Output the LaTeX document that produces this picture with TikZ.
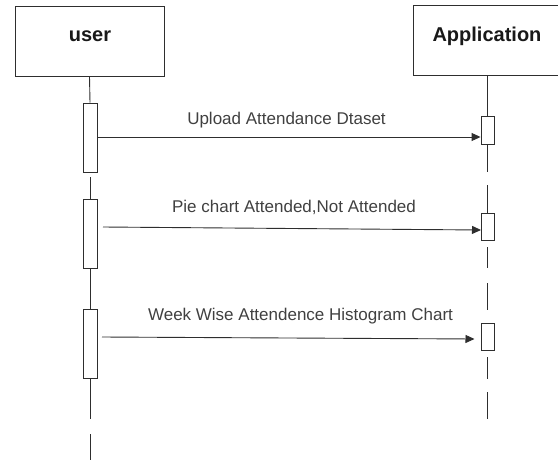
\documentclass[tikz,border=0pt]{standalone}
\usepackage{fontspec}
\setmainfont{Liberation Sans}
\usetikzlibrary{arrows.meta}
\begin{document}
\begin{tikzpicture}[x=1pt,y=-1pt,
  line/.style={draw=black!82,line width=0.9pt},
  actorbox/.style={line,fill=white,minimum width=149pt,minimum height=70pt,inner sep=0pt},
  title/.style={anchor=base,inner sep=0pt,text=black!90,font=\bfseries\fontsize{20}{24}\selectfont},
  ubar/.style={line,fill=white,minimum width=14pt,minimum height=69pt,inner sep=0pt},
  abar/.style={line,fill=white,minimum width=13pt,minimum height=27.5pt,inner sep=0pt},
  msg/.style={line,-{Triangle[length=9pt,width=8pt]}},
  msglabel/.style={anchor=base,inner sep=0pt,text=black!75,font=\fontsize{17}{20}\selectfont}]
\useasboundingbox (0,0) rectangle (558,461);
% actors
\node[actorbox] (user) at (89.5,41) {};
\node[actorbox] (app) at (487.5,40.5) {};
\node[title] (usert) at (90,41) {user};
\node[title] (appt) at (487,41) {Application};
% activation bars
\node[ubar] (u1) at (90,137.5) {};
\node[ubar] (u2) at (90,233.5) {};
\node[ubar] (u3) at (90,343.5) {};
\node[abar] (a1) at (487.5,130.5) {};
\node[abar] (a2) at (487.5,227) {};
\node[abar] (a3) at (487.5,337) {};
% user lifeline
\coordinate (ul1) at (90,177);
\coordinate (ul2) at (90,419);
\coordinate (ul3) at (90,434);
\coordinate (ul4) at (90,460);
\draw[line] (user.south) -- (u1.north);
\draw[line] (ul1) -- (u2.north);
\draw[line] (u2.south) -- (u3.north);
\draw[line] (u3.south) -- (ul2);
\draw[line] (ul3) -- (ul4);
% application lifeline
\coordinate (al1) at (487.5,172);
\coordinate (al2) at (487.5,185);
\coordinate (al3) at (487.5,247);
\coordinate (al4) at (487.5,268);
\coordinate (al5) at (487.5,283);
\coordinate (al6) at (487.5,310);
\coordinate (al7) at (487.5,357);
\coordinate (al8) at (487.5,379);
\coordinate (al9) at (487.5,392);
\coordinate (al10) at (487.5,419);
\draw[line] (app.south) -- (a1.north);
\draw[line] (a1.south) -- (al1);
\draw[line] (al2) -- (a2.north);
\draw[line] (al3) -- (al4);
\draw[line] (al5) -- (al6);
\draw[line] (al7) -- (al8);
\draw[line] (al9) -- (al10);
% messages
\coordinate (m2s) at (103,227);
\coordinate (m2e) at (481,230);
\coordinate (m3s) at (102,337);
\coordinate (m3e) at (474.5,339);
\draw[msg] (u1.east |- 0,137) -- (a1.west |- 0,137);
\draw[msg] (m2s) -- (m2e);
\draw[msg] (m3s) -- (m3e);
\node[msglabel] (l1) at (286.5,124) {Upload Attendance Dtaset};
\node[msglabel] (l2) at (294,212.5) {Pie chart Attended,Not Attended};
\node[msglabel] (l3) at (300.5,320.5) {Week Wise Attendence Histogram Chart};
\end{tikzpicture}
\end{document}
